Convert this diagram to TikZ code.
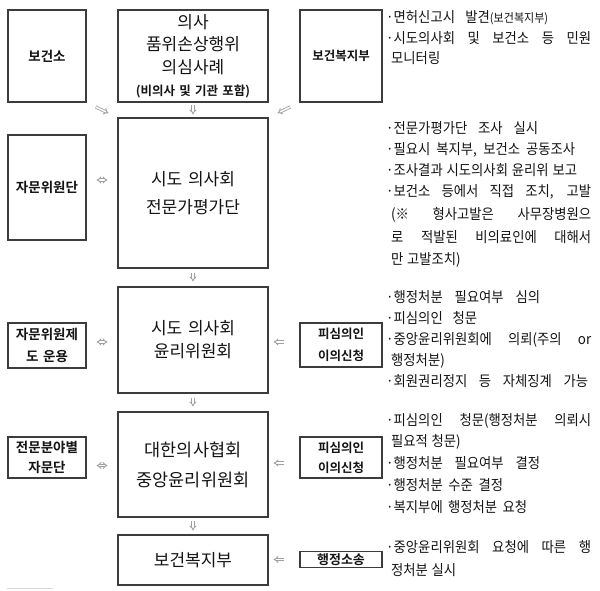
\documentclass[tikz,border=0pt]{standalone}
\usepackage{fontspec}
\setmainfont{Noto Sans CJK KR}[BoldFont={Noto Sans CJK KR Bold},WordSpace=1.5]
\newfontfamily\krt{Noto Sans CJK KR}[WordSpace=1.2,FakeStretch=0.92]
\usetikzlibrary{arrows.meta}
\definecolor{boxc}{HTML}{3C3C3C}
\definecolor{txt}{HTML}{141414}
\definecolor{arrc}{HTML}{A0A0A0}
\newcommand{\jl}[2]{\makebox[#1pt][s]{#2}}
\begin{document}
\begin{tikzpicture}[x=1pt,y=-1pt,
  box/.style={draw=boxc, line width=1.1pt, fill=white, inner sep=0pt, align=center, text=txt},
  sidebox/.style={box, minimum width=78pt, font=\fontsize{13.5}{21}\selectfont\bfseries},
  rbox/.style={box, minimum width=82pt, font=\fontsize{12.5}{21}\selectfont\bfseries},
  mainbox/.style={box, minimum width=150pt, font=\fontsize{17}{23}\selectfont},
  conn/.style={draw=arrc, double=white, double distance=1.5pt, line width=0.85pt, -{Implies}},
  conn2/.style={conn, {Implies}-{Implies}},
  rt/.style={anchor=west, inner sep=0pt, text=txt, text height=11pt, text depth=0.5pt, font=\krt\fontsize{14.5}{15}\selectfont},
]
\fill[white] (0,0) rectangle (600,590);
\useasboundingbox (0,0) rectangle (600,590);

% row 1
\node[sidebox, minimum height=92pt] (bgs) at (47,56) {보건소};
\node[mainbox, minimum height=92pt, font=\fontsize{17}{22.5}\selectfont] (top) at (193,56)
  {의사\\품위손상행위\\의심사례\\{\fontsize{12.5}{14}\selectfont\bfseries (비의사 및 기관 포함)}};
\node[rbox, minimum height=92pt] (bwf) at (341,56) {보건복지부};

% row 2
\node[mainbox, minimum height=150pt, font=\fontsize{17}{28}\selectfont] (c1) at (193,193) {시도 의사회\\전문가평가단};
\node[sidebox, minimum height=105pt] (jm1) at (47,187.5) {자문위원단};

% row 3
\node[mainbox, minimum height=106pt, font=\fontsize{17}{23}\selectfont] (c2) at (193,340) {시도 의사회\\윤리위원회};
\node[sidebox, minimum height=45pt, font=\fontsize{13.5}{22}\selectfont\bfseries] (jm2) at (47,345.5) {자문위원제\\도 운용};
\node[rbox, minimum height=44pt, font=\fontsize{12.5}{22}\selectfont\bfseries] (p1) at (341,345) {피심의인\\이의신청};

% row 4
\node[mainbox, minimum height=105pt, font=\fontsize{17.5}{30}\selectfont] (c3) at (193,464.5) {대한의사협회\\중앙윤리위원회};
\node[sidebox, minimum height=41pt, font=\fontsize{13.5}{20}\selectfont\bfseries] (jm3) at (47,457.5) {전문분야별\\자문단};
\node[rbox, minimum height=41pt, font=\fontsize{12.5}{20}\selectfont\bfseries] (p2) at (341,457.5) {피심의인\\이의신청};

% row 5
\node[mainbox, minimum height=50pt] (c4) at (193,560) {보건복지부};
\node[rbox, minimum height=16pt, text height=10.3pt, text depth=0.5pt, font=\fontsize{13}{15}\selectfont\bfseries] (hs) at (341,559.5) {행정소송};

% vertical arrows
\draw[conn, shorten <=2pt, shorten >=3pt] (top) -- (c1);
\draw[conn, shorten <=4pt, shorten >=5pt] (c1) -- (c2);
\draw[conn, shorten <=4pt, shorten >=5pt] (c2) -- (c3);
\draw[conn, shorten <=3pt, shorten >=4pt] (c3) -- (c4);
% diagonal arrows
\draw[conn, shorten <=10pt, shorten >=10pt] (bgs.south east) -- (c1.north west);
\draw[conn, shorten <=10pt, shorten >=10pt] (bwf.south west) -- (c1.north east);
% left two-way arrows
\coordinate (a1) at ([yshift=7.5pt]jm1.east);
\draw[conn2, shorten <=10pt, shorten >=10pt] (a1) -- (a1 -| c1.west);
\coordinate (a2) at ([yshift=3.5pt]jm2.east);
\draw[conn2, shorten <=10pt, shorten >=10pt] (a2) -- (a2 -| c2.west);
\coordinate (a3) at ([yshift=-8pt]jm3.east);
\draw[conn2, shorten <=10pt, shorten >=10pt] (a3) -- (a3 -| c3.west);
% right arrows
\coordinate (b1) at ([yshift=3pt]p1.west);
\draw[conn, shorten <=15pt, shorten >=5pt] (b1) -- (b1 -| c2.east);
\coordinate (b2) at ([yshift=-5.5pt]p2.west);
\draw[conn, shorten <=15pt, shorten >=5pt] (b2) -- (b2 -| c3.east);
\draw[conn, shorten <=15pt, shorten >=5pt] (hs.west) -- (hs.west -| c4.east);

% right column texts
\node[rt] (t11) at (386,17) {\jl{162}{·면허신고시 발견{\fontsize{12}{12}\selectfont(보건복지부)}}};
\node[rt] (t12) at (386,38) {\jl{205}{·시도의사회 및 보건소 등 민원}};
\node[rt] (t13) at (391,58) {모니터링};

\node[rt] (t21) at (386,128) {\jl{152}{·전문가평가단 조사 실시}};
\node[rt] (t22) at (386,149) {\jl{189}{·필요시 복지부, 보건소 공동조사}};
\node[rt] (t23) at (386,170) {\jl{191}{·조사결과 시도의사회 윤리위 보고}};
\node[rt] (t24) at (386,191) {\jl{205}{·보건소 등에서 직접 조치, 고발}};
\node[rt] (t25) at (391,214) {\jl{200}{(※ 형사고발은 사무장병원으}};
\node[rt] (t26) at (391,237) {\jl{200}{로 적발된 비의료인에 대해서}};
\node[rt] (t27) at (391,259) {만 고발조치)};

\node[rt] (t31) at (386,297) {\jl{154}{·행정처분 필요여부 심의}};
\node[rt] (t32) at (386,318) {\jl{91}{·피심의인 청문}};
\node[rt] (t33) at (386,339) {\jl{205}{·중앙윤리위원회에 의뢰(주의 or}};
\node[rt] (t34) at (391,360) {행정처분)};
\node[rt] (t35) at (386,381) {\jl{202}{·회원권리정지 등 자체징계 가능}};

\node[rt] (t41) at (386,420) {\jl{205}{·피심의인 청문(행정처분 의뢰시}};
\node[rt] (t42) at (391,441) {필요적 청문)};
\node[rt] (t43) at (386,463) {\jl{154}{·행정처분 필요여부 결정}};
\node[rt] (t44) at (386,485) {\jl{117}{·행정처분 수준 결정}};
\node[rt] (t45) at (386,507) {\jl{141}{·복지부에 행정처분 요청}};

\node[rt] (t51) at (386,547) {\jl{205}{·중앙윤리위원회 요청에 따른 행}};
\node[rt] (t52) at (391,570) {정처분 실시};

\draw[black!15, line width=0.8pt] (7,588) -- (53,588);
\end{tikzpicture}
\end{document}
